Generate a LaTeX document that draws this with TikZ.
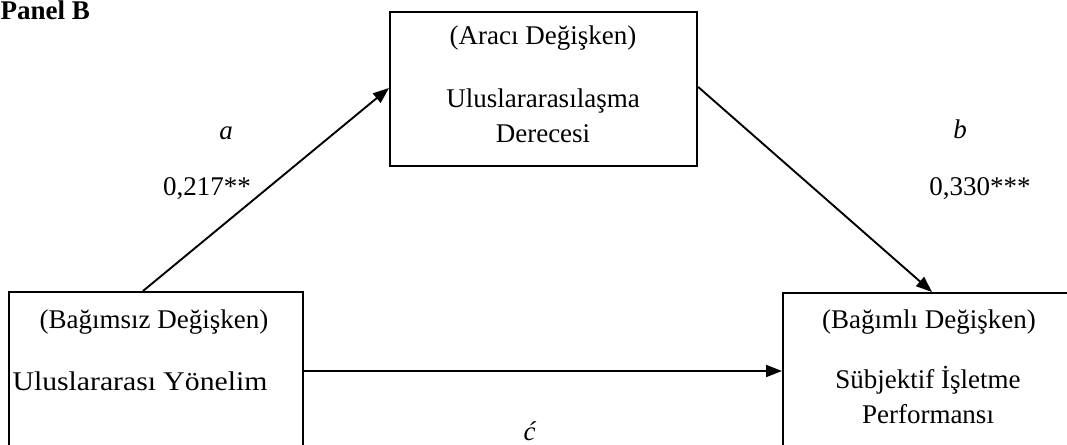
\documentclass[tikz,border=0pt]{standalone}
\usepackage{fontspec}
\setmainfont{Liberation Serif}
\usetikzlibrary{arrows.meta,calc}
\tikzset{
  box/.style={draw, line width=2.2pt, rectangle, inner sep=0pt, anchor=north west},
  txt/.style={inner sep=0pt, anchor=base, font=\fontsize{27}{32}\selectfont},
  conn/.style={line width=1.9pt, -{Triangle[length=16pt,width=12pt]}}
}
\begin{document}
\begin{tikzpicture}[x=1pt,y=-1pt]
\useasboundingbox (0,0) rectangle (1067,444);
% boxes
\node[box, minimum width=307pt, minimum height=154pt] (T) at (389,11) {};
\node[box, minimum width=294pt, minimum height=200pt] (L) at (8,291) {};
\node[box, minimum width=300pt, minimum height=200pt] (R) at (782,292) {};
% panel title
\node[txt, anchor=base west, font=\fontsize{27}{32}\selectfont\bfseries] (title) at (0.5,19.5) {Panel B};
% top box text
\node[txt] (t1) at (543,45) {(Aracı Değişken)};
\node[txt] (t2) at (543,107) {Uluslararasılaşma};
\node[txt] (t3) at (543,142) {Derecesi};
% left box text
\node[txt] (l1) at (154,328) {(Bağımsız Değişken)};
\node[txt] (l2) at (140,390) {\addfontfeatures{FakeStretch=1.1}Uluslararası Yönelim};
% right box text
\node[txt] (r1) at (929,328) {(Bağımlı Değişken)};
\node[txt] (r2) at (928,388) {Sübjektif İşletme};
\node[txt] (r3) at (928,423) {Performansı};
% connector end points
\coordinate (aS) at ($(L.north west)+(135,0)$);
\coordinate (aE) at ($(T.north west)+(0,77)$);
\coordinate (bS) at ($(T.north east)+(0,76)$);
\coordinate (bE) at ($(R.north west)+(150,0)$);
\coordinate (cS) at ($(L.north east)+(0,80)$);
\coordinate (cE) at ($(R.north west)+(0,79)$);
\draw[conn] (aS) -- (aE);
\draw[conn] (bS) -- (bE);
\draw[conn] (cS) -- (cE);
% labels
\node[txt] (la) at (226,139) {\textit{a}};
\node[txt] (lav) at (207,195) {0,217**};
\node[txt] (lb) at (960,138) {\textit{b}};
\node[txt] (lbv) at (980,195) {0,330***};
\node[txt] (lc) at (530,440) {\textit{ć}};
\end{tikzpicture}
\end{document}
